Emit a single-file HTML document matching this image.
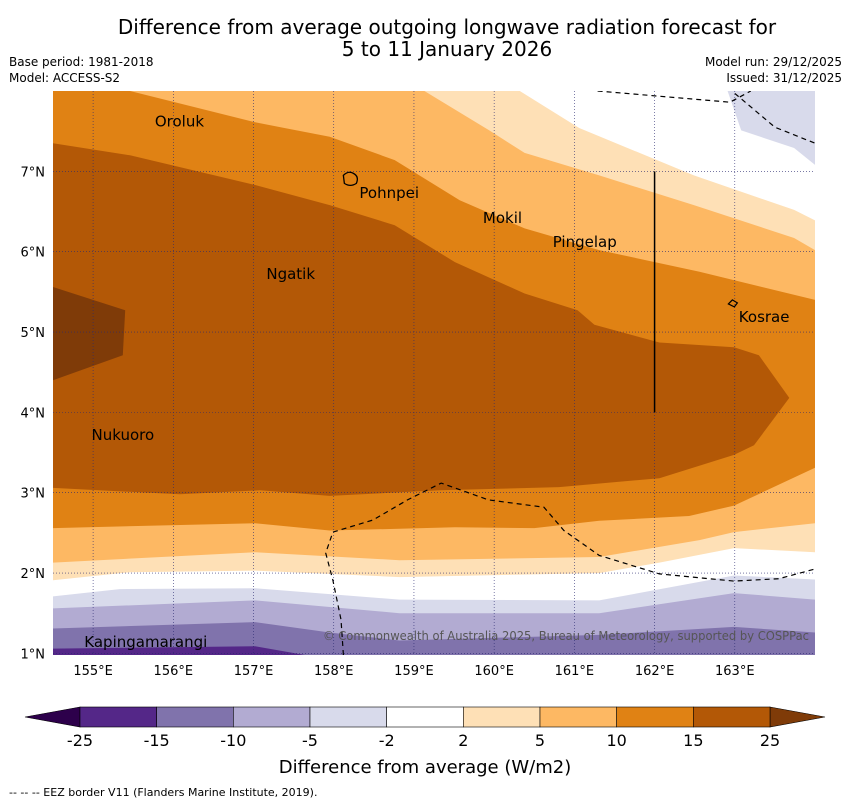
<!DOCTYPE html>
<html><head><meta charset="utf-8"><style>
body{margin:0;background:#fff;width:850px;height:804px;overflow:hidden;font-family:"DejaVu Sans","Liberation Sans",sans-serif;}
svg{position:absolute;left:0;top:0;font-family:"DejaVu Sans","Liberation Sans",sans-serif;}
</style></head><body>
<svg id="chart" width="850" height="804" xmlns="http://www.w3.org/2000/svg">
<text x="447" y="34" font-size="20" text-anchor="middle">Difference from average outgoing longwave radiation forecast for</text>
<text x="447" y="56" font-size="20" text-anchor="middle">5 to 11 January 2026</text>
<text x="9" y="66" font-size="12">Base period: 1981-2018</text>
<text x="9" y="82" font-size="12">Model: ACCESS-S2</text>
<text x="842" y="66" font-size="12" text-anchor="end">Model run: 29/12/2025</text>
<text x="842" y="82" font-size="12" text-anchor="end">Issued: 31/12/2025</text>
<defs><clipPath id="mapclip"><rect x="53" y="91" width="762" height="564"/></clipPath></defs>
<g id="map" clip-path="url(#mapclip)"></g>
<g id="over"></g>
<text x="9" y="796" font-size="11">--  --  -- EEZ border V11 (Flanders Marine Institute, 2019).</text>
</svg>
<script>
const lonMin=154.5, lonMax=164.0, latMin=0.98, latMax=8.0;
const X0=53,X1=815,Y0=91,Y1=655;
const sx=l=>X0+(l-lonMin)/(lonMax-lonMin)*(X1-X0);
const sy=l=>Y0+(latMax-l)/(latMax-latMin)*(Y1-Y0);
const NS='http://www.w3.org/2000/svg';
const colors={dpurple:'#542788',mpurple:'#8073ac',lpurple:'#b2abd2',lav:'#d8daeb',white:'#ffffff',pale:'#fee0b6',lorange:'#fdb863',orange:'#e08214',brown:'#b35806',dbrown:'#7f3b08'};
const bndB=[[155.46,8.0],[157.02,7.61],[157.95,7.43],[158.76,7.14],[159.57,6.64],[160.38,6.29],[161.31,6.02],[162.56,5.75],[164.0,5.40]];
const bndC=[[159.13,8.0],[159.94,7.51],[160.38,7.23],[161.31,6.95],[162.49,6.58],[163.74,6.17],[164.0,6.02]];
const bndD=[[160.32,8.0],[161.06,7.54],[162.49,6.95],[163.74,6.52],[164.0,6.39]];
const lavTop=[[162.91,8.0],[163.08,7.51],[163.74,7.29],[164.0,7.08],[164.0,8.0]];
const tongue=[[154.5,7.35],[155.46,7.20],[157.02,6.83],[157.95,6.58],[158.76,6.33],[159.51,5.87],[160.38,5.48],[161.04,5.27],[161.25,5.09],[162.06,4.87],[162.99,4.81],[163.30,4.71],[163.68,4.18],[163.24,3.59],[162.99,3.47],[162.06,3.18],[160.81,3.07],[159.32,3.03],[157.95,2.96],[157.08,3.03],[156.08,2.98],[154.5,3.06]];
const dpatch=[[154.5,5.56],[155.40,5.27],[155.37,4.71],[154.5,4.40]];
const bndF=[[154.5,2.56],[157.02,2.62],[157.95,2.53],[159.51,2.57],[160.50,2.56],[161.31,2.65],[162.43,2.71],[162.99,2.84],[164.0,3.31]];
const bndG=[[154.5,2.13],[157.02,2.26],[158.82,2.16],[161.31,2.20],[162.56,2.41],[162.99,2.51],[164.0,2.62]];
const bndH=[[154.5,1.91],[155.46,2.01],[157.02,2.03],[158.82,1.95],[161.31,2.00],[162.06,2.13],[162.99,2.31],[164.0,2.26]];
const bndI=[[154.5,1.71],[155.33,1.80],[157.02,1.81],[158.82,1.67],[161.31,1.66],[162.99,1.97],[164.0,1.92]];
const bndJ=[[154.5,1.56],[157.02,1.66],[158.82,1.50],[161.31,1.50],[162.99,1.75],[164.0,1.67]];
const bndK=[[154.5,1.31],[157.02,1.39],[157.95,1.26],[158.82,1.16],[161.31,1.23],[162.99,1.33],[164.0,1.26]];
const bndL=[[154.5,1.06],[157.02,1.09],[157.64,0.98],[164.0,0.98]];
const eezTop1=[[161.29,8.0],[162.94,7.86],[163.2,8.0]];
const eezTop2=[[163.0,7.97],[163.5,7.55],[164.0,7.35]];
const eezBottom=[[158.12,0.98],[158.09,1.42],[157.99,1.91],[157.90,2.25],[157.99,2.51],[158.49,2.66],[158.92,2.91],[159.34,3.12],[159.93,2.91],[160.62,2.82],[160.87,2.53],[161.31,2.22],[162.06,1.99],[162.99,1.90],[163.55,1.93],[164.0,2.05]];
const lonTicks=[155,156,157,158,159,160,161,162,163];
const latTicks=[1,2,3,4,5,6,7];
const islands=[['Oroluk',155.77,7.62],['Pohnpei',158.32,6.73],['Mokil',159.86,6.42],['Pingelap',160.73,6.12],['Ngatik',157.16,5.72],['Kosrae',163.05,5.19],['Nukuoro',154.98,3.72],['Kapingamarangi',154.89,1.14]];
const cbLabels=['-25','-15','-10','-5','-2','2','5','10','15','25'];
const cbColors=['dpurple','mpurple','lpurple','lav','white','pale','lorange','orange','brown'];

const map=document.getElementById('map'), over=document.getElementById('over'), svg=document.getElementById('chart');
function mk(tag,attrs,parent){const e=document.createElementNS(NS,tag);for(const k in attrs)e.setAttribute(k,attrs[k]);(parent||map).appendChild(e);return e;}
const pts=a=>a.map(p=>sx(p[0]).toFixed(1)+','+sy(p[1]).toFixed(1)).join(' ');
function fillAbove(b,c,name){const p=[[b[0][0],latMax+0.1],...b,[lonMax+0.1,b[b.length-1][1]],[lonMax+0.1,latMax+0.1]];const e=mk('polygon',{points:pts(p),fill:colors[c]});

}
function fillBelow(b,c,name){const p=[[lonMin-0.1,b[0][1]],...b,[lonMax+0.1,b[b.length-1][1]],[lonMax+0.1,latMin-0.1],[lonMin-0.1,latMin-0.1]];const e=mk('polygon',{points:pts(p),fill:colors[c]});

}
const base=mk('rect',{x:X0,y:Y0,width:X1-X0,height:Y1-Y0,fill:colors.orange});


fillAbove(bndB,'lorange','band-5-10-north');
fillAbove(bndC,'pale','band-2-5-north');
fillAbove(bndD,'white','band-neutral-north');
let e=mk('polygon',{points:pts(lavTop),fill:colors.lav});


e=mk('polygon',{points:pts(tongue),fill:colors.brown});


e=mk('polygon',{points:pts(dpatch),fill:colors.dbrown});


fillBelow(bndF,'lorange','band-5-10-south');
fillBelow(bndG,'pale','band-2-5-south');
fillBelow(bndH,'white','band-neutral-south');
fillBelow(bndI,'lav','band-minus5-south');
fillBelow(bndJ,'lpurple','band-minus10');
fillBelow(bndK,'mpurple','band-minus15');
fillBelow(bndL,'dpurple','band-minus25');
lonTicks.forEach(l=>{const g=mk('line',{x1:sx(l),x2:sx(l),y1:Y0,y2:Y1,stroke:'#2a2a70','stroke-width':0.6,'stroke-dasharray':'1,2'});


const t=mk('text',{x:sx(l),y:675,'font-size':13,'text-anchor':'middle'},over);t.textContent=l+'°E';

});
latTicks.forEach(l=>{const g=mk('line',{x1:X0,x2:X1,y1:sy(l),y2:sy(l),stroke:'#2a2a70','stroke-width':0.6,'stroke-dasharray':'1,2'});


const t=mk('text',{x:45,y:sy(l)+5,'font-size':13,'text-anchor':'end'},over);t.textContent=l+'°N';

});
[eezTop1,eezTop2,eezBottom].forEach(b=>{const l=mk('polyline',{points:pts(b),fill:'none',stroke:'#000','stroke-width':1.2,'stroke-dasharray':'5,4'});

});
e=mk('line',{x1:sx(162),x2:sx(162),y1:sy(7),y2:sy(4),stroke:'#000','stroke-width':1.5});


islands.forEach(i=>{const t=mk('text',{x:sx(i[1]),y:sy(i[2])+5,'font-size':15,fill:'#000'});t.textContent=i[0];

});
e=mk('path',{d:`M${sx(158.12)} ${sy(6.95)} q5 -5 10 -2 q6 3 3 10 q-6 4 -12 0 z`,fill:'none',stroke:'#000','stroke-width':1.3});


e=mk('path',{d:`M${sx(162.92)} ${sy(5.35)} l4 -4 l5 3 l-3 4 z`,fill:'none',stroke:'#000','stroke-width':1.2});


e=mk('text',{x:323,y:640,'font-size':12,fill:'#555',textLength:486,lengthAdjust:'spacingAndGlyphs'});e.textContent='© Commonwealth of Australia 2025, Bureau of Meteorology, supported by COSPPac';


const cbX0=80,cbX1=770,cbY=707,cbH=20,w=(cbX1-cbX0)/cbColors.length;
e=mk('polygon',{points:`${cbX0},${cbY} 25,${cbY+cbH/2} ${cbX0},${cbY+cbH}`,fill:'#2d004b',stroke:'#000','stroke-width':0.6},svg);


e=mk('polygon',{points:`${cbX1},${cbY} 825,${cbY+cbH/2} ${cbX1},${cbY+cbH}`,fill:colors.dbrown,stroke:'#000','stroke-width':0.6},svg);


cbColors.forEach((c,i)=>{const r=mk('rect',{x:cbX0+i*w,y:cbY,width:w,height:cbH,fill:colors[c],stroke:'#000','stroke-width':0.6},svg);

});
cbLabels.forEach((s,i)=>{const t=mk('text',{x:cbX0+i*w,y:746,'font-size':16,'text-anchor':'middle'},svg);t.textContent=s;

});
e=mk('text',{x:425,y:773,'font-size':18,'text-anchor':'middle'},svg);e.textContent='Difference from average (W/m2)';


</script>
</body></html>
